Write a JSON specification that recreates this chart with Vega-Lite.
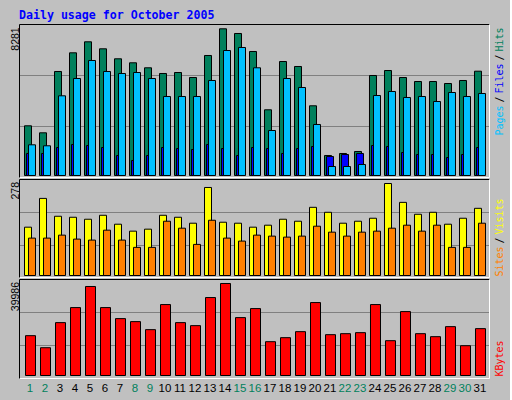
{
  "$schema": "https://vega.github.io/schema/vega-lite/v6.json",
  "background": "#c0c0c0",
  "padding": {"left": 10, "top": 10, "right": 6, "bottom": 7},
  "title": {"text": "Daily usage for October 2005", "anchor": "start", "frame": "group", "font": "DejaVu Sans Mono", "fontWeight": "bold", "fontSize": 11.6, "color": "#0000ff", "baseline": "alphabetic", "offset": -9},
  "data": {"values": [
    {"day": 1, "hits": 2806, "files": 1242, "pages": 1733, "visits": 146, "sites": 113, "kbytes": 17313},
    {"day": 2, "hits": 2410, "files": 1242, "pages": 1677, "visits": 233, "sites": 113, "kbytes": 12080},
    {"day": 3, "hits": 5871, "files": 1581, "pages": 4499, "visits": 179, "sites": 122, "kbytes": 22983},
    {"day": 4, "hits": 6926, "files": 1750, "pages": 5476, "visits": 176, "sites": 110, "kbytes": 29524},
    {"day": 5, "hits": 7547, "files": 1694, "pages": 6492, "visits": 170, "sites": 107, "kbytes": 38682},
    {"day": 6, "hits": 7152, "files": 1581, "pages": 5871, "visits": 182, "sites": 137, "kbytes": 29524},
    {"day": 7, "hits": 6588, "files": 1129, "pages": 5758, "visits": 155, "sites": 107, "kbytes": 24727},
    {"day": 8, "hits": 6362, "files": 847, "pages": 5814, "visits": 134, "sites": 85, "kbytes": 23419},
    {"day": 9, "hits": 6080, "files": 1129, "pages": 5476, "visits": 140, "sites": 85, "kbytes": 19930},
    {"day": 10, "hits": 5758, "files": 1581, "pages": 4460, "visits": 182, "sites": 164, "kbytes": 30832},
    {"day": 11, "hits": 5814, "files": 1524, "pages": 4460, "visits": 176, "sites": 143, "kbytes": 22983},
    {"day": 12, "hits": 5532, "files": 1468, "pages": 4460, "visits": 158, "sites": 94, "kbytes": 21674},
    {"day": 13, "hits": 6774, "files": 1750, "pages": 5363, "visits": 266, "sites": 167, "kbytes": 33885},
    {"day": 14, "hits": 8281, "files": 1524, "pages": 7056, "visits": 161, "sites": 113, "kbytes": 39986},
    {"day": 15, "hits": 8016, "files": 1129, "pages": 7226, "visits": 158, "sites": 104, "kbytes": 25163},
    {"day": 16, "hits": 7000, "files": 1581, "pages": 6080, "visits": 146, "sites": 122, "kbytes": 29088},
    {"day": 17, "hits": 3709, "files": 1524, "pages": 2540, "visits": 152, "sites": 119, "kbytes": 14697},
    {"day": 18, "hits": 6435, "files": 1242, "pages": 5476, "visits": 170, "sites": 116, "kbytes": 16441},
    {"day": 19, "hits": 6153, "files": 1524, "pages": 4968, "visits": 164, "sites": 119, "kbytes": 19058},
    {"day": 20, "hits": 3935, "files": 1637, "pages": 2879, "visits": 206, "sites": 149, "kbytes": 31704},
    {"day": 21, "hits": 1129, "files": 1073, "pages": 508, "visits": 191, "sites": 131, "kbytes": 17749},
    {"day": 22, "hits": 1242, "files": 1185, "pages": 508, "visits": 158, "sites": 119, "kbytes": 18185},
    {"day": 23, "hits": 1355, "files": 1242, "pages": 621, "visits": 164, "sites": 131, "kbytes": 18622},
    {"day": 24, "hits": 5645, "files": 1694, "pages": 4516, "visits": 173, "sites": 134, "kbytes": 30832},
    {"day": 25, "hits": 5927, "files": 1637, "pages": 4742, "visits": 278, "sites": 143, "kbytes": 15133},
    {"day": 26, "hits": 5532, "files": 1298, "pages": 4403, "visits": 221, "sites": 152, "kbytes": 27780},
    {"day": 27, "hits": 5306, "files": 1185, "pages": 4460, "visits": 185, "sites": 134, "kbytes": 18185},
    {"day": 28, "hits": 5306, "files": 1185, "pages": 4177, "visits": 191, "sites": 152, "kbytes": 16877},
    {"day": 29, "hits": 5193, "files": 1016, "pages": 4685, "visits": 155, "sites": 85, "kbytes": 21238},
    {"day": 30, "hits": 5363, "files": 1185, "pages": 4460, "visits": 173, "sites": 85, "kbytes": 12952},
    {"day": 31, "hits": 5888, "files": 1581, "pages": 4629, "visits": 203, "sites": 158, "kbytes": 20366}
  ]},
  "spacing": 2,
  "bounds": "flush",
  "resolve": {"scale": {"x": "independent", "y": "independent"}},
  "vconcat": [
    {
      "width": 470, "height": 153,
      "layer": [
        {"mark": {"type": "bar", "color": "#00805c", "stroke": "black", "strokeWidth": 1, "width": 7, "xOffset": -2},
         "encoding": {
           "x": {"field": "day", "type": "ordinal", "scale": {"paddingInner": 0, "paddingOuter": 0.1667, "align": 0.7}, "axis": {"labels": false, "ticks": false, "tickSize": 0, "domainColor": "white", "title": null, "grid": false}},
           "y": {"field": "hits", "type": "quantitative", "stack": null, "scale": {"domain": [-84.7, 8552], "nice": false, "zero": false},
                 "axis": {"orient": "left", "values": [2794, 5673, 8281, 8552], "title": null, "domainColor": "black", "ticks": false, "tickSize": 0, "grid": true,
                          "gridColor": {"condition": {"test": "datum.value > 8500", "value": "black"}, "value": "#808080"},
                          "gridOpacity": {"condition": {"test": "datum.value == 8281", "value": 0}, "value": 1},
                          "labelExpr": "datum.value == 8281 ? '8281' : ''", "labelAngle": -90, "labelAlign": "right", "labelBaseline": "alphabetic", "labelPadding": 1, "labelOffset": -2, "labelFont": "Liberation Sans", "labelFontSize": 10.5, "labelColor": "black", "labelOverlap": false, "labelFlush": false}}
         }},
        {"mark": {"type": "bar", "color": "#0000ff", "stroke": "black", "strokeWidth": 1, "width": 7, "xOffset": 0},
         "encoding": {
           "x": {"field": "day", "type": "ordinal", "scale": {"paddingInner": 0, "paddingOuter": 0.1667, "align": 0.7}, "axis": {"labels": false, "ticks": false, "tickSize": 0, "domainColor": "white", "title": null, "grid": false}},
           "y": {"field": "files", "type": "quantitative", "stack": null, "scale": {"domain": [-84.7, 8552], "nice": false, "zero": false}, "axis": null}
         }},
        {"mark": {"type": "bar", "color": "#00c0ff", "stroke": "black", "strokeWidth": 1, "width": 7, "xOffset": 2},
         "encoding": {
           "x": {"field": "day", "type": "ordinal", "scale": {"paddingInner": 0, "paddingOuter": 0.1667, "align": 0.7}, "axis": {"labels": false, "ticks": false, "tickSize": 0, "domainColor": "white", "title": null, "grid": false}},
           "y": {"field": "pages", "type": "quantitative", "stack": null, "scale": {"domain": [-84.7, 8552], "nice": false, "zero": false},
                 "axis": {"orient": "right", "values": [3133, 4318, 5504, 6689, 7705], "title": null, "domainColor": "white", "ticks": false, "tickSize": 0, "grid": false, "labelExpr": "datum.value == 7705 ? 'Hits' : datum.value == 5504 ? 'Files' : datum.value == 3133 ? 'Pages' : '/'", "labelAngle": -90, "labelAlign": "center", "labelBaseline": "top", "labelPadding": 5, "labelFont": "DejaVu Sans Mono", "labelFontSize": 10, "labelOverlap": false, "labelFlush": false,
                          "labelColor": {"condition": [{"test": "datum.value == 7705", "value": "#00805c"}, {"test": "datum.value == 5504", "value": "#0000ff"}, {"test": "datum.value == 3133", "value": "#00c0ff"}], "value": "black"}}}
         }}
      ],
      "resolve": {"axis": {"y": "independent"}}
    },
    {
      "width": 470, "height": 98,
      "layer": [
        {"mark": {"type": "bar", "color": "#ffff00", "stroke": "black", "strokeWidth": 1, "width": 7, "xOffset": -2},
         "encoding": {
           "x": {"field": "day", "type": "ordinal", "scale": {"paddingInner": 0, "paddingOuter": 0.1667, "align": 0.7}, "axis": {"labels": false, "ticks": false, "tickSize": 0, "domainColor": "white", "title": null, "grid": false}},
           "y": {"field": "visits", "type": "quantitative", "stack": null, "scale": {"domain": [-4.53, 291.6], "nice": false, "zero": false},
                 "axis": {"orient": "left", "values": [92.2, 191.9, 278, 291.6], "title": null, "domainColor": "black", "ticks": false, "tickSize": 0, "grid": true,
                          "gridColor": {"condition": {"test": "datum.value > 291", "value": "black"}, "value": "#808080"},
                          "gridOpacity": {"condition": {"test": "datum.value == 278", "value": 0}, "value": 1},
                          "labelExpr": "datum.value == 278 ? '278' : ''", "labelAngle": -90, "labelAlign": "right", "labelBaseline": "alphabetic", "labelPadding": 1, "labelOffset": -2, "labelFont": "Liberation Sans", "labelFontSize": 10.5, "labelColor": "black", "labelOverlap": false, "labelFlush": false}}
         }},
        {"mark": {"type": "bar", "color": "#ff8000", "stroke": "black", "strokeWidth": 1, "width": 7, "xOffset": 2},
         "encoding": {
           "x": {"field": "day", "type": "ordinal", "scale": {"paddingInner": 0, "paddingOuter": 0.1667, "align": 0.7}, "axis": {"labels": false, "ticks": false, "tickSize": 0, "domainColor": "white", "title": null, "grid": false}},
           "y": {"field": "sites", "type": "quantitative", "stack": null, "scale": {"domain": [-4.53, 291.6], "nice": false, "zero": false},
                 "axis": {"orient": "right", "values": [43.8, 107.3, 179.8], "title": null, "domainColor": "white", "ticks": false, "tickSize": 0, "grid": false, "labelExpr": "datum.value == 179.8 ? 'Visits' : datum.value == 43.8 ? 'Sites' : '/'", "labelAngle": -90, "labelAlign": "center", "labelBaseline": "top", "labelPadding": 5, "labelFont": "DejaVu Sans Mono", "labelFontSize": 10, "labelOverlap": false, "labelFlush": false,
                          "labelColor": {"condition": [{"test": "datum.value == 179.8", "value": "#ffff00"}, {"test": "datum.value == 43.8", "value": "#ff8000"}], "value": "black"}}}
         }}
      ],
      "resolve": {"axis": {"y": "independent"}}
    },
    {
      "width": 470, "height": 99,
      "layer": [
        {"mark": {"type": "bar", "color": "#ff0000", "stroke": "black", "strokeWidth": 1, "width": 10, "xOffset": 0.5},
         "encoding": {
           "x": {"field": "day", "type": "ordinal", "scale": {"paddingInner": 0, "paddingOuter": 0.1667, "align": 0.7},
                 "axis": {"title": null, "ticks": false, "tickSize": 0, "domainColor": "white", "grid": false, "labelAngle": 0, "labelFont": "Liberation Sans", "labelFontSize": 11.5, "labelPadding": 4.5, "labelBaseline": "top",
                          "labelColor": {"condition": {"test": "indexof([1,2,8,9,15,16,22,23,29,30], datum.value) >= 0", "value": "#00805c"}, "value": "black"}}},
           "y": {"field": "kbytes", "type": "quantitative", "stack": null, "scale": {"domain": [-1086.5, 41939], "nice": false, "zero": false},
                 "axis": {"orient": "left", "values": [13255, 27597, 39986, 41939], "title": null, "domainColor": "black", "ticks": false, "tickSize": 0, "grid": true,
                          "gridColor": {"condition": {"test": "datum.value > 41000", "value": "black"}, "value": "#808080"},
                          "gridOpacity": {"condition": {"test": "datum.value == 39986", "value": 0}, "value": 1},
                          "labelExpr": "datum.value == 39986 ? '39986' : ''", "labelAngle": -90, "labelAlign": "right", "labelBaseline": "alphabetic", "labelPadding": 1, "labelOffset": -2, "labelFont": "Liberation Sans", "labelFontSize": 10.5, "labelColor": "black", "labelOverlap": false, "labelFlush": false}}
         }},
        {"mark": {"type": "bar", "color": "#ff0000", "opacity": 0, "width": 10, "xOffset": 0.5},
         "encoding": {
           "x": {"field": "day", "type": "ordinal", "scale": {"paddingInner": 0, "paddingOuter": 0.1667, "align": 0.7},
                 "axis": {"title": null, "ticks": false, "tickSize": 0, "domainColor": "white", "grid": false, "labelAngle": 0, "labelFont": "Liberation Sans", "labelFontSize": 11.5, "labelPadding": 4.5, "labelBaseline": "top",
                          "labelColor": {"condition": {"test": "indexof([1,2,8,9,15,16,22,23,29,30], datum.value) >= 0", "value": "#00805c"}, "value": "black"}}},
           "y": {"field": "kbytes", "type": "quantitative", "stack": null, "scale": {"domain": [-1086.5, 41939], "nice": false, "zero": false},
                 "axis": {"orient": "right", "values": [7606], "title": null, "domainColor": "white", "ticks": false, "tickSize": 0, "grid": false, "labelExpr": "'KBytes'", "labelAngle": -90, "labelAlign": "center", "labelBaseline": "top", "labelPadding": 5, "labelFont": "DejaVu Sans Mono", "labelFontSize": 10, "labelColor": "#ff0000", "labelOverlap": false, "labelFlush": false}}
         }}
      ],
      "resolve": {"axis": {"y": "independent"}}
    }
  ],
  "config": {"view": {"stroke": null, "fill": null}, "axis": {"domainWidth": 1, "gridWidth": 1}}
}
